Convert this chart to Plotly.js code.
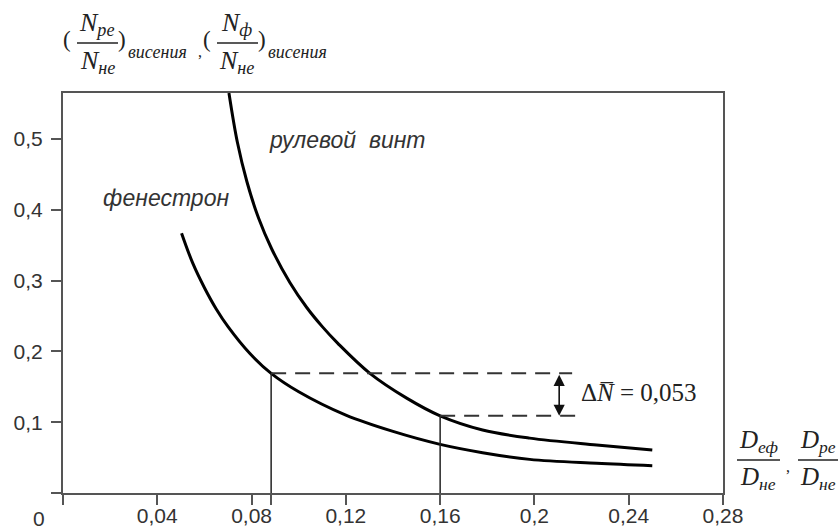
<!DOCTYPE html>
<html>
<head>
<meta charset="utf-8">
<script src="https://cdn.plot.ly/plotly-3.0.1.min.js"></script>
<style>html,body{margin:0;padding:0;background:#fff;}#chart{width:838px;height:529px;}</style>
</head>
<body>
<div id="chart"></div>
<script>
// ---- data ----
const rotorX = [0.0704, 0.074, 0.078, 0.083, 0.0885, 0.0963, 0.1034, 0.11, 0.1167, 0.1302, 0.1458, 0.16, 0.178, 0.198, 0.2264, 0.25];
const rotorY = [0.565, 0.495, 0.44, 0.388, 0.345, 0.297, 0.262, 0.235, 0.211, 0.169, 0.134, 0.109, 0.089, 0.0775, 0.0678, 0.0607];
const fenX = [0.0503, 0.055, 0.06, 0.065, 0.07, 0.0793, 0.0883, 0.1, 0.12, 0.14, 0.16, 0.178, 0.198, 0.2264, 0.25];
const fenY = [0.367, 0.325, 0.29, 0.26, 0.235, 0.197, 0.169, 0.143, 0.11, 0.087, 0.0687, 0.057, 0.0475, 0.042, 0.0386];
const fenPointX = [0.0883, 0.0883];
const fenPointY = [0, 0.169];
const rotorPointX = [0.16, 0.16];
const rotorPointY = [0, 0.109];
const dashUpperX = [0.0883, 0.216];
const dashUpperY = [0.169, 0.169];
const dashLowerX = [0.16, 0.218];
const dashLowerY = [0.109, 0.109];
const arrowX = 0.2105;
const arrowY = [0.169, 0.109];
const xTickVals = [0, 0.04, 0.08, 0.0883, 0.12, 0.16, 0.2, 0.24, 0.28];
const xTickText = ['', '0,04', '0,08', '', '0,12', '0,16', '0,2', '0,24', '0,28'];
const yTickVals = [0, 0.1, 0.2, 0.3, 0.4, 0.5];
const yTickText = ['', '0,1', '0,2', '0,3', '0,4', '0,5'];
const deltaLabel = 'Δ<i>N̅</i> = 0,053';
const labelRotor = 'рулевой  винт';
const labelFen = 'фенестрон';

// ---- layout helpers (pixel -> paper) ----
const L = 63, T = 93, W = 660, H = 400;
const px = x => (x - L) / W;
const py = y => (T + H - y) / H;

const serif = 'Liberation Serif, Times New Roman, serif';
const sans = 'Liberation Sans, Arial, sans-serif';
const ink = '#222';

function ann(text, x, y, size, family, xa, ya, extra) {
  return Object.assign({
    text: text, xref: 'paper', yref: 'paper', x: px(x), y: py(y),
    xanchor: xa || 'center', yanchor: ya || 'middle', showarrow: false,
    font: {family: family, size: size, color: ink}
  }, extra || {});
}
function bar(x0, x1, y) {
  return {type: 'line', xref: 'paper', yref: 'paper', x0: px(x0), x1: px(x1), y0: py(y), y1: py(y),
          line: {color: ink, width: 1.3}};
}

const traces = [
  {x: rotorX, y: rotorY, mode: 'lines', line: {color: '#000', width: 3, shape: 'spline', smoothing: 1}, hoverinfo: 'skip'},
  {x: fenX, y: fenY, mode: 'lines', line: {color: '#000', width: 3, shape: 'spline', smoothing: 1}, hoverinfo: 'skip'},
  {x: fenPointX, y: fenPointY, mode: 'lines', line: {color: '#222', width: 1.5}, hoverinfo: 'skip'},
  {x: rotorPointX, y: rotorPointY, mode: 'lines', line: {color: '#222', width: 1.5}, hoverinfo: 'skip'},
  {x: dashUpperX, y: dashUpperY, mode: 'lines', line: {color: '#333', width: 2, dash: '15px,9px'}, hoverinfo: 'skip'},
  {x: dashLowerX, y: dashLowerY, mode: 'lines', line: {color: '#333', width: 2, dash: '15px,9px'}, hoverinfo: 'skip'}
];

const italicSans = {family: sans, size: 23, color: '#333', style: 'italic'};

const annotations = [
  // double arrow
  {x: arrowX, y: arrowY[1], ax: arrowX, ay: arrowY[0], xref: 'x', yref: 'y', axref: 'x', ayref: 'y',
   text: '', showarrow: true, arrowside: 'end+start', arrowhead: 2, arrowsize: 1.4, arrowwidth: 1.6,
   arrowcolor: '#111', standoff: 0, startstandoff: 0},
  ann(deltaLabel, 579, 392, 25, serif, 'left'),
  ann(labelRotor, 267, 140, 23, sans, 'left', 'middle', {font: italicSans}),
  ann(labelFen, 101, 198, 23, sans, 'left', 'middle', {font: italicSans}),
  ann('0', 39, 518, 21, sans, 'center', 'middle', {font: {family: sans, size: 21, color: '#333'}}),
  // top-left y label
  ann('(', 67, 39, 23, serif),
  ann('<i>N</i><sub><i>ре</i></sub>', 97, 42, 26, serif, 'center', 'bottom'),
  ann('<i>N</i><sub><i>не</i></sub>', 97, 44, 26, serif, 'center', 'top'),
  ann(')', 122, 39, 23, serif),
  ann('<i>висения</i>', 126, 52, 18, serif, 'left'),
  ann(',', 200, 52, 16, serif),
  ann('(', 207, 39, 23, serif),
  ann('<i>N</i><sub><i>ф</i></sub>', 237, 42, 26, serif, 'center', 'bottom'),
  ann('<i>N</i><sub><i>не</i></sub>', 237, 44, 26, serif, 'center', 'top'),
  ann(')', 262, 39, 23, serif),
  ann('<i>висения</i>', 266, 52, 18, serif, 'left'),
  // bottom-right x label
  ann('<i>D</i><sub><i>еф</i></sub>', 758, 459, 25, serif, 'center', 'bottom'),
  ann('<i>D</i><sub><i>не</i></sub>', 758, 461, 25, serif, 'center', 'top'),
  ann(',', 788, 466, 16, serif),
  ann('<i>D</i><sub><i>ре</i></sub>', 818, 459, 25, serif, 'center', 'bottom'),
  ann('<i>D</i><sub><i>не</i></sub>', 818, 461, 25, serif, 'center', 'top')
];

const shapes = [bar(77, 118, 43), bar(217, 258, 43), bar(737, 780, 460), bar(798, 840, 460)];

const axisCommon = {
  showgrid: false, zeroline: false, showline: true, mirror: true,
  linecolor: '#555', linewidth: 2, ticks: 'outside', ticklen: 10, tickwidth: 2, tickcolor: '#555',
  tickmode: 'array', tickfont: {family: sans, size: 21, color: '#333'}, fixedrange: true
};

const layout = {
  width: 838, height: 529,
  margin: {l: L, r: 838 - L - W, t: T, b: 529 - T - H, pad: 0},
  paper_bgcolor: '#fff', plot_bgcolor: '#fff', showlegend: false,
  xaxis: Object.assign({}, axisCommon, {range: [0, 0.28], tickvals: xTickVals, ticktext: xTickText, ticklabelstandoff: -7}),
  yaxis: Object.assign({}, axisCommon, {range: [0, 0.565], tickvals: yTickVals, ticktext: yTickText, ticklabelstandoff: 4}),
  annotations: annotations, shapes: shapes
};

Plotly.newPlot('chart', traces, layout, {staticPlot: true, displayModeBar: false});
</script>
</body>
</html>
